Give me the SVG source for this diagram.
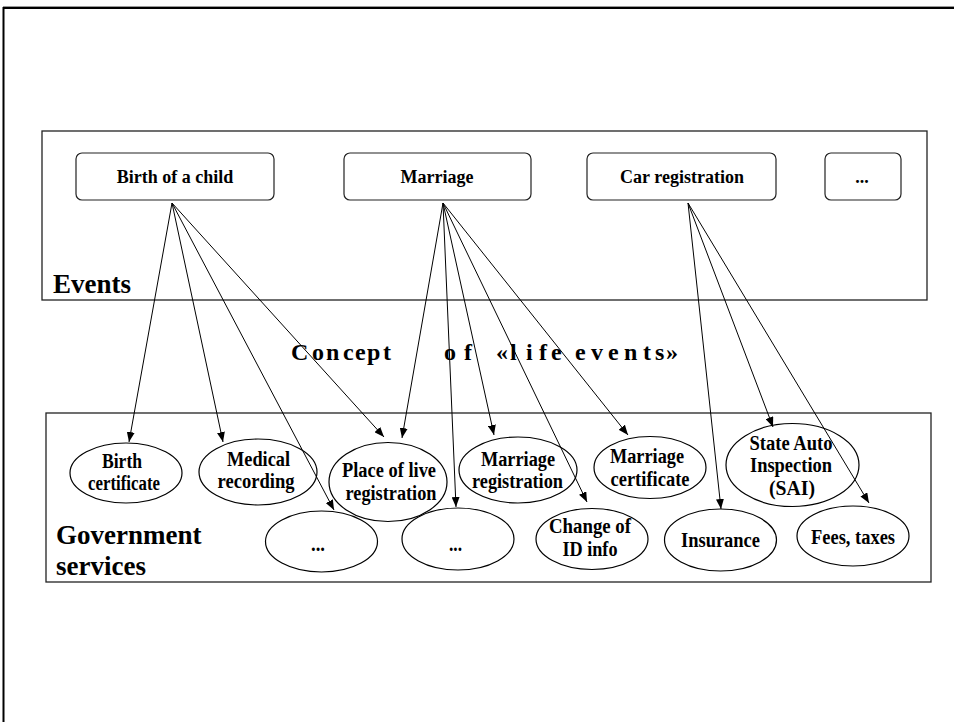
<svg xmlns="http://www.w3.org/2000/svg" width="954" height="722" viewBox="0 0 954 722">
  <style>
    .frame { fill: none; stroke: #000; stroke-width: 2; }
    .panel { fill: none; stroke: #222; stroke-width: 1.3; }
    .event rect { fill: #fff; stroke: #222; stroke-width: 1.2; }
    .event text { font-family: "Liberation Serif", "Times New Roman", serif; font-weight: bold; font-size: 18px; text-anchor: middle; fill: #000; }
    .svc ellipse { fill: #fff; stroke: #000; stroke-width: 1.2; }
    .svc text { font-family: "Liberation Serif", "Times New Roman", serif; font-weight: bold; font-size: 20.5px; text-anchor: middle; fill: #000; }
    .big { font-family: "Liberation Serif", "Times New Roman", serif; font-weight: bold; font-size: 27px; fill: #000; }
    .title { font-family: "Liberation Serif", "Times New Roman", serif; font-weight: bold; font-size: 24px; fill: #000; }
    .conn line { stroke: #000; stroke-width: 1; marker-end: url(#arrow); }
  </style>
  <defs>
    <marker id="arrow" markerWidth="10" markerHeight="8" refX="10" refY="4" orient="auto" markerUnits="userSpaceOnUse">
      <path d="M0,0 L10,4 L0,8 z" fill="#000"/>
    </marker>
  </defs>

  <rect width="954" height="722" fill="#fff"/>

  <!-- slide frame -->
  <line x1="3" y1="6.5" x2="954" y2="6.5" stroke="#999" stroke-width="1"/>
  <rect class="frame" x="3.5" y="8" width="970" height="730"/>

  <!-- panels -->
  <g id="events-panel">
    <rect class="panel" x="42" y="131" width="885" height="169"/>
    <text class="big" x="53" y="293">Events</text>
  </g>
  <g id="services-panel">
    <rect class="panel" x="46" y="413" width="885" height="169"/>
    <text class="big" x="56" y="544">Government</text>
    <text class="big" x="56" y="575">services</text>
  </g>

  <!-- caption, letter by letter -->
  <text id="caption" class="title" y="360" x="291 312 326 343 355 367 383 392 444 464 474 496 510 526 539 551 563 575 591 608 624 643 655 666">Concept of «life events»</text>

  <!-- events -->
  <g id="ev-birth" class="event">
    <rect x="76" y="153" width="198" height="47" rx="6"/>
    <text x="175" y="183">Birth of a child</text>
  </g>
  <g id="ev-marriage" class="event">
    <rect x="344" y="153" width="187" height="47" rx="6"/>
    <text x="437" y="183">Marriage</text>
  </g>
  <g id="ev-car" class="event">
    <rect x="587" y="153" width="189" height="47" rx="6"/>
    <text x="682" y="183">Car registration</text>
  </g>
  <g id="ev-more" class="event">
    <rect x="825" y="153" width="76" height="47" rx="6"/>
    <text x="862" y="183">...</text>
  </g>

  <!-- services -->
  <g id="svc-birth-cert" class="svc">
    <ellipse cx="126" cy="473" rx="56" ry="30"/>
    <text x="122" y="467.5" textLength="40" lengthAdjust="spacingAndGlyphs">Birth</text>
    <text x="124" y="490" textLength="72" lengthAdjust="spacingAndGlyphs">certificate</text>
  </g>
  <g id="svc-medical" class="svc">
    <ellipse cx="258" cy="472" rx="59" ry="33"/>
    <text x="258.5" y="466" textLength="63" lengthAdjust="spacingAndGlyphs">Medical</text>
    <text x="256" y="488" textLength="77" lengthAdjust="spacingAndGlyphs">recording</text>
  </g>
  <g id="svc-place" class="svc">
    <ellipse cx="388" cy="482" rx="59" ry="39.5"/>
    <text x="389" y="477" textLength="94" lengthAdjust="spacingAndGlyphs">Place of live</text>
    <text x="391" y="499.5" textLength="91" lengthAdjust="spacingAndGlyphs">registration</text>
  </g>
  <g id="svc-more-1" class="svc">
    <ellipse cx="321.5" cy="541.5" rx="56" ry="30.5"/>
    <text x="318" y="550.5" textLength="14" lengthAdjust="spacingAndGlyphs">...</text>
  </g>
  <g id="svc-more-2" class="svc">
    <ellipse cx="458" cy="539" rx="56" ry="31"/>
    <text x="455.5" y="550.5" textLength="13" lengthAdjust="spacingAndGlyphs">...</text>
  </g>
  <g id="svc-marriage-reg" class="svc">
    <ellipse cx="518" cy="470" rx="59" ry="33"/>
    <text x="518" y="466" textLength="74" lengthAdjust="spacingAndGlyphs">Marriage</text>
    <text x="517.5" y="488" textLength="91" lengthAdjust="spacingAndGlyphs">registration</text>
  </g>
  <g id="svc-marriage-cert" class="svc">
    <ellipse cx="650" cy="467.5" rx="56" ry="31"/>
    <text x="647" y="463" textLength="74" lengthAdjust="spacingAndGlyphs">Marriage</text>
    <text x="650" y="485.5" textLength="79" lengthAdjust="spacingAndGlyphs">certificate</text>
  </g>
  <g id="svc-sai" class="svc">
    <ellipse cx="792.5" cy="465" rx="66.5" ry="41.5"/>
    <text x="791" y="449.5" textLength="83" lengthAdjust="spacingAndGlyphs">State Auto</text>
    <text x="791" y="472" textLength="82" lengthAdjust="spacingAndGlyphs">Inspection</text>
    <text x="792" y="494.5" textLength="46" lengthAdjust="spacingAndGlyphs">(SAI)</text>
  </g>
  <g id="svc-change-id" class="svc">
    <ellipse cx="592" cy="539" rx="56" ry="30.5"/>
    <text x="590" y="533" textLength="82" lengthAdjust="spacingAndGlyphs">Change of</text>
    <text x="590" y="555.5" textLength="55" lengthAdjust="spacingAndGlyphs">ID info</text>
  </g>
  <g id="svc-insurance" class="svc">
    <ellipse cx="720.5" cy="540" rx="56" ry="31"/>
    <text x="720.5" y="547" textLength="79" lengthAdjust="spacingAndGlyphs">Insurance</text>
  </g>
  <g id="svc-fees" class="svc">
    <ellipse cx="853" cy="536" rx="56" ry="30"/>
    <text x="853" y="543.5" textLength="84" lengthAdjust="spacingAndGlyphs">Fees, taxes</text>
  </g>

  <!-- connectors: each event fans out to the services it involves -->
  <g id="connectors" class="conn">
    <line x1="172" y1="203" x2="129" y2="442"/>
    <line x1="172" y1="203" x2="223" y2="442"/>
    <line x1="172" y1="203" x2="334" y2="510"/>
    <line x1="172" y1="203" x2="384" y2="437"/>

    <line x1="443" y1="203" x2="402" y2="438"/>
    <line x1="443" y1="203" x2="456" y2="507"/>
    <line x1="443" y1="203" x2="494" y2="435"/>
    <line x1="443" y1="203" x2="587" y2="502"/>
    <line x1="443" y1="203" x2="628" y2="435"/>

    <line x1="688" y1="203" x2="721" y2="509"/>
    <line x1="688" y1="203" x2="773" y2="427"/>
    <line x1="688" y1="203" x2="869" y2="503"/>
  </g>
</svg>
